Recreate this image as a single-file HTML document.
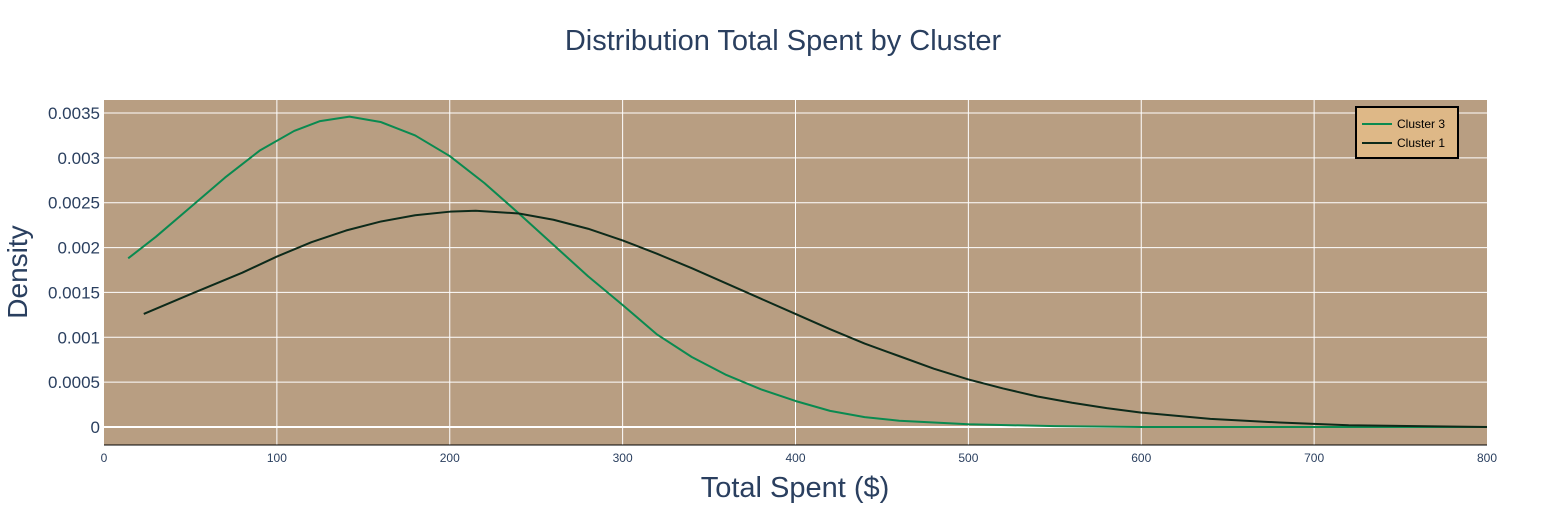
<!DOCTYPE html>
<html><head><meta charset="utf-8"><style>
body{margin:0;background:#fff;}
svg text{font-family:"Liberation Sans",Arial,sans-serif;}
</style></head><body>
<svg id="chart" width="1567" height="525">
<rect x="0" y="0" width="1567" height="525" fill="#fff"/>
<rect x="104" y="100" width="1383" height="345" fill="#b89e82"/>
<g id="grid"></g><g id="ticks"></g><g id="lines"></g>
<text x="783" y="50" text-anchor="middle" font-size="29" fill="#2a3f5f">Distribution Total Spent by Cluster</text>
<text x="795" y="497" text-anchor="middle" font-size="29" fill="#2a3f5f">Total Spent ($)</text>
<text x="27" y="272" text-anchor="middle" font-size="28" fill="#2a3f5f" transform="rotate(-90 27 272)">Density</text>
<g>
<rect x="1356" y="107" width="102" height="51" fill="#deb887" stroke="#000" stroke-width="2"/>
<g><line x1="1362" y1="124" x2="1392" y2="124" stroke="#0a8a50" stroke-width="2"/><text x="1397" y="128" font-size="12" fill="#000">Cluster 3</text></g>
<g><line x1="1362" y1="143" x2="1392" y2="143" stroke="#0d2a1a" stroke-width="2"/><text x="1397" y="147" font-size="12" fill="#000">Cluster 1</text></g>
</g>
</svg>
<script>
const xTicks=[0,100,200,300,400,500,600,700,800];
const yTicks=[0,0.0005,0.001,0.0015,0.002,0.0025,0.003,0.0035];
const yTickLabels=["0","0.0005","0.001","0.0015","0.002","0.0025","0.003","0.0035"];
const c3X=[14,30,50,70,90,110,125,142,160,180,200,220,240,260,280,300,320,340,360,380,400,420,440,460,500,550,600,800];
const c3Y=[0.00188,0.00212,0.00245,0.00278,0.00308,0.0033,0.00341,0.00346,0.0034,0.00325,0.00302,0.00272,0.00238,0.00203,0.00168,0.00136,0.00103,0.00078,0.00058,0.00042,0.00029,0.00018,0.00011,0.00007,0.00003,0.00001,0,0];
const c1X=[23,50,80,100,120,140,160,180,200,215,240,260,280,300,320,340,360,380,400,420,440,460,480,500,520,540,560,580,600,640,680,720,800];
const c1Y=[0.00126,0.00148,0.00172,0.0019,0.00206,0.00219,0.00229,0.00236,0.0024,0.00241,0.00238,0.00231,0.00221,0.00208,0.00193,0.00177,0.0016,0.00143,0.00126,0.00109,0.00093,0.00079,0.00065,0.00053,0.00043,0.00034,0.00027,0.00021,0.00016,0.00009,0.00005,0.00002,0];
const NS="http://www.w3.org/2000/svg";
const xs=v=>104+v*(1383/800);
const ys=v=>427-v*(314/0.0035);
function mk(t,a,p){const e=document.createElementNS(NS,t);for(const k in a)e.setAttribute(k,a[k]);p.appendChild(e);return e;}
const g=document.getElementById('grid'),tk=document.getElementById('ticks'),ln=document.getElementById('lines');
xTicks.forEach(v=>{
 if(v>0&&v<800){const l=mk('line',{x1:xs(v),x2:xs(v),y1:100,y2:445,stroke:'#fff','stroke-width':1},g);
 
 }
 const t=mk('text',{x:xs(v),y:462,'text-anchor':'middle','font-size':12,fill:'#2a3f5f'},tk);t.textContent=v;
 
 
});
yTicks.forEach((v,i)=>{
 const l=mk('line',{x1:104,x2:1487,y1:ys(v),y2:ys(v),stroke:'#fff','stroke-width':v===0?2:1},g);
 
 
 const t=mk('text',{x:100,y:ys(v)+6,'text-anchor':'end','font-size':17,fill:'#2a3f5f'},tk);t.textContent=yTickLabels[i];
 
 
});
mk('line',{x1:104,x2:1487,y1:445,y2:445,stroke:'#000','stroke-width':1},g);
function path(X,Y,c,n){const d=X.map((x,i)=>(i?'L':'M')+xs(x)+','+ys(Y[i])).join('');
 const p=mk('path',{d:d,fill:'none',stroke:c,'stroke-width':2,'stroke-linejoin':'round'},ln);
 
 }
path(c3X,c3Y,'#0a8a50','cluster-3-line');
path(c1X,c1Y,'#0d2a1a','cluster-1-line');
</script>
</body></html>
